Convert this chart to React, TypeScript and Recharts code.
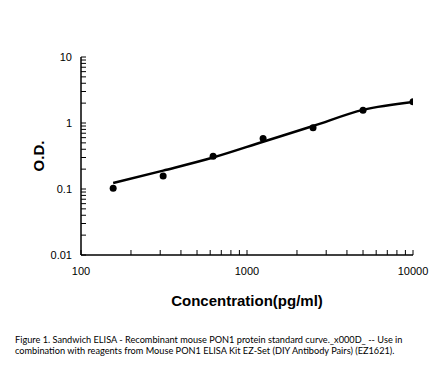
import React from 'react';
import { ComposedChart, XAxis, YAxis, Line, Scatter } from 'recharts';

const concentrations = [156.25, 312.5, 625, 1250, 2500, 5000, 10000];
const odValues = [0.103, 0.157, 0.313, 0.58, 0.85, 1.56, 2.1];
const fitValues = [0.123, 0.19, 0.3, 0.52, 0.9, 1.58, 2.08];

const xMajorTicks = [100, 1000, 10000];
const xMinorTicks = [200, 300, 400, 500, 600, 700, 800, 900, 2000, 3000, 4000, 5000, 6000, 7000, 8000, 9000];
const yMajorTicks = [0.01, 0.1, 1, 10];
const yMinorTicks = [0.02, 0.03, 0.04, 0.05, 0.06, 0.07, 0.08, 0.09, 0.2, 0.3, 0.4, 0.5, 0.6, 0.7, 0.8, 0.9, 2, 3, 4, 5, 6, 7, 8, 9];

const xTitle = 'Concentration(pg/ml)';
const yTitle = 'O.D.';
const captionLines = [
  'Figure 1. Sandwich ELISA - Recombinant mouse PON1 protein standard curve._x000D_ -- Use in',
  'combination with reagents from Mouse PON1 ELISA Kit EZ-Set (DIY Antibody Pairs) (EZ1621).',
];

const data = concentrations.map((c, i) => ({ conc: c, od: odValues[i], fit: fitValues[i] }));

const xTicks = [...xMajorTicks, ...xMinorTicks].sort((a, b) => a - b);
const yTicks = [...yMajorTicks, ...yMinorTicks].sort((a, b) => a - b);

const tickFont = { fontFamily: 'Liberation Sans, Arial, sans-serif', fontSize: 11, fill: '#000' };

export default function App() {
  return (
    <div style={{ position: 'absolute', left: 0, top: 0, width: 446, height: 366, background: '#fff' }}>
      <ComposedChart
        width={446}
        height={366}
        data={data}
        margin={{ top: 57, right: 33, bottom: 0, left: 0 }}
      >
        <XAxis
          dataKey="conc"
          type="number"
          scale="log"
          domain={[100, 10000]}
          ticks={xTicks}
          interval={0}
          allowDataOverflow
          height={111}
          tickSize={-5}
          tickMargin={17}
          tick={tickFont}
          tickFormatter={(v: number) => (xMajorTicks.includes(v) ? String(v) : '')}
          axisLine={{ stroke: '#000', strokeWidth: 1.5 }}
          tickLine={{ stroke: '#000', strokeWidth: 1 }}
          label={{
            content: () => (
              <text
                x={247}
                y={306}
                textAnchor="middle"
                style={{ fontFamily: 'Liberation Sans, Arial, sans-serif', fontSize: 15, fontWeight: 'bold', fill: '#000' }}
              >
                {xTitle}
              </text>
            ),
          }}
        />
        <YAxis
          type="number"
          scale="log"
          domain={[0.01, 10]}
          ticks={yTicks}
          interval={0}
          allowDataOverflow
          width={81}
          tickSize={-5}
          tickMargin={14}
          tick={tickFont}
          tickFormatter={(v: number) => (yMajorTicks.includes(v) ? String(v) : '')}
          axisLine={{ stroke: '#000', strokeWidth: 1.5 }}
          tickLine={{ stroke: '#000', strokeWidth: 1 }}
          label={{
            content: () => (
              <text
                x={44}
                y={156}
                textAnchor="middle"
                transform="rotate(-90 44 156)"
                style={{ fontFamily: 'Liberation Sans, Arial, sans-serif', fontSize: 15, fontWeight: 'bold', fill: '#000' }}
              >
                {yTitle}
              </text>
            ),
          }}
        />
        <Line
          dataKey="fit"
          type="monotone"
          stroke="#000"
          strokeWidth={2.5}
          dot={false}
          activeDot={false}
          isAnimationActive={false}
        />
        <Scatter
          dataKey="od"
          fill="#000"
          shape={(p: any) => <circle cx={p.cx} cy={p.cy} r={3.5} fill="#000" />}
          isAnimationActive={false}
        />
      </ComposedChart>
      <div
        style={{
          position: 'absolute',
          left: 15,
          top: 334,
          fontFamily: 'Lato, sans-serif',
          fontSize: 9.2,
          lineHeight: '11px',
          color: '#000',
          whiteSpace: 'nowrap',
        }}
      >
        {captionLines.map((l, i) => (
          <div key={i}>{l}</div>
        ))}
      </div>
    </div>
  );
}
